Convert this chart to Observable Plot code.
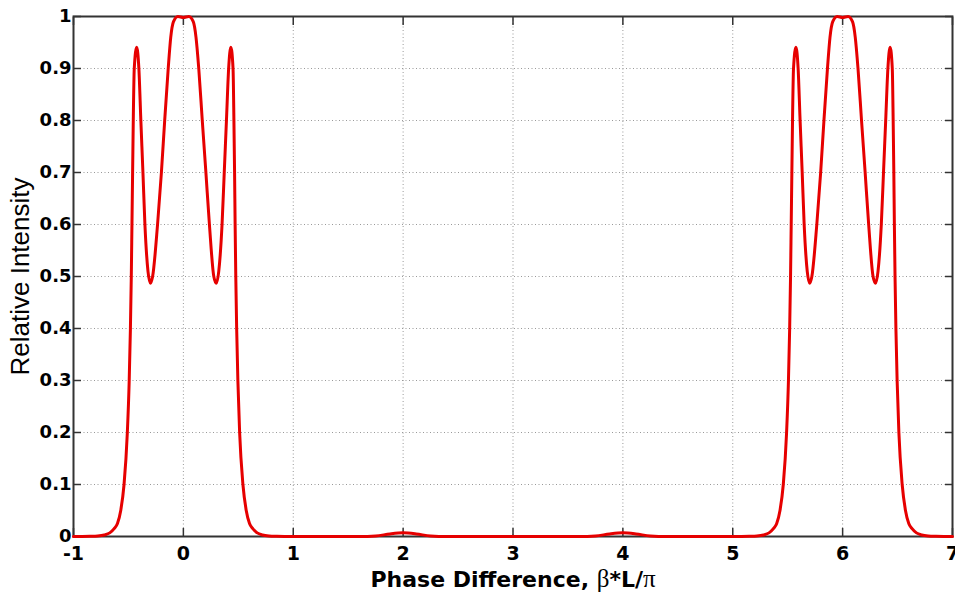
<!DOCTYPE html>
<html><head><meta charset="utf-8">
<script src="https://cdn.jsdelivr.net/npm/d3@7"></script>
<script src="https://cdn.jsdelivr.net/npm/@observablehq/plot@0.6"></script>
<style>body{margin:0;background:#fff}</style>
</head><body><div id="chart"></div>
<script>
const phaseX = [
  -1.00, -0.92, -0.85, -0.78, -0.72, -0.67, -0.63, -0.60, -0.57, -0.54, -0.51, -0.493, -0.482, -0.474, -0.468, -0.462, -0.456, -0.447,
  -0.425, -0.405, -0.387, -0.368, -0.350, -0.322, -0.300, -0.280, -0.235, -0.200, -0.170, -0.138, -0.115, -0.090, -0.050,
  0.000, 0.050, 0.090, 0.115, 0.140, 0.172, 0.205, 0.237, 0.277, 0.300, 0.322, 0.352, 0.372, 0.392, 0.412,
  0.432, 0.452, 0.460, 0.466, 0.471, 0.477, 0.485, 0.496, 0.512, 0.542, 0.572, 0.602, 0.632, 0.672, 0.72, 0.78, 0.85, 0.92,
  1.20, 1.60, 1.75, 1.88, 2.00, 2.12, 2.25, 2.40, 3.00, 3.60, 3.75, 3.88, 4.00, 4.12, 4.25, 4.40, 5.08,
  5.15, 5.22, 5.28, 5.33, 5.37, 5.40, 5.43, 5.46, 5.49, 5.507, 5.518, 5.526, 5.532, 5.538, 5.544, 5.553,
  5.575, 5.595, 5.613, 5.632, 5.650, 5.678, 5.700, 5.720, 5.765, 5.800, 5.830, 5.862, 5.885, 5.910, 5.950,
  6.000, 6.050, 6.090, 6.115, 6.140, 6.172, 6.205, 6.237, 6.277, 6.300, 6.322, 6.352, 6.372, 6.392, 6.412,
  6.432, 6.452, 6.460, 6.466, 6.471, 6.477, 6.485, 6.496, 6.512, 6.542, 6.572, 6.602, 6.632, 6.672, 6.72, 6.78, 6.85, 6.92, 7.00
];
const intensity = [
  0, 0, 0.0003, 0.001, 0.003, 0.007, 0.015, 0.025, 0.05, 0.10, 0.20, 0.30, 0.40, 0.50, 0.60, 0.70, 0.80, 0.90,
  0.941, 0.90, 0.80, 0.70, 0.60, 0.51, 0.487, 0.50, 0.60, 0.70, 0.80, 0.90, 0.96, 0.99, 1.0,
  0.998, 1.0, 0.99, 0.96, 0.90, 0.80, 0.70, 0.60, 0.50, 0.487, 0.51, 0.60, 0.70, 0.80, 0.90,
  0.941, 0.90, 0.80, 0.70, 0.60, 0.50, 0.40, 0.30, 0.20, 0.10, 0.05, 0.025, 0.015, 0.007, 0.003, 0.001, 0.0003, 0,
  0, 0, 0.001, 0.005, 0.007, 0.005, 0.001, 0, 0, 0, 0.001, 0.005, 0.007, 0.005, 0.001, 0, 0,
  0.0003, 0.001, 0.003, 0.007, 0.015, 0.025, 0.05, 0.10, 0.20, 0.30, 0.40, 0.50, 0.60, 0.70, 0.80, 0.90,
  0.941, 0.90, 0.80, 0.70, 0.60, 0.51, 0.487, 0.50, 0.60, 0.70, 0.80, 0.90, 0.96, 0.99, 1.0,
  0.998, 1.0, 0.99, 0.96, 0.90, 0.80, 0.70, 0.60, 0.50, 0.487, 0.51, 0.60, 0.70, 0.80, 0.90,
  0.941, 0.90, 0.80, 0.70, 0.60, 0.50, 0.40, 0.30, 0.20, 0.10, 0.05, 0.025, 0.015, 0.007, 0.003, 0.001, 0.0003, 0, 0
];
const xTicks = [-1, 0, 1, 2, 3, 4, 5, 6, 7];
const yTicks = [0, 0.1, 0.2, 0.3, 0.4, 0.5, 0.6, 0.7, 0.8, 0.9, 1];
const xLabel = "Phase Difference, β*L/π";
const yLabel = "Relative Intensity";

const data = phaseX.map((x, i) => ({x, y: intensity[i]}));
const axisColor = "#333333";
const gridStyle = {stroke: "#999", strokeOpacity: 1, strokeWidth: 1, strokeDasharray: "1,2.5"};

const chart = Plot.plot({
  width: 955, height: 595,
  marginLeft: 73, marginRight: 3, marginTop: 16, marginBottom: 59,
  x: {domain: [-1, 7], label: null},
  y: {domain: [0, 1], label: null},
  style: {background: "#fff", fontFamily: "DejaVu Sans", color: "#000"},
  marks: [
    Plot.gridX(xTicks, gridStyle),
    Plot.gridY(yTicks, gridStyle),
    Plot.frame({stroke: axisColor, strokeWidth: 2}),
    Plot.axisX(xTicks, {anchor: "bottom", tickSize: 8, dy: -8, fill: "none", stroke: axisColor, strokeWidth: 1.5}),
    Plot.axisX(xTicks, {anchor: "top", tickSize: 8, dy: 8, fill: "none", stroke: axisColor, strokeWidth: 1.5}),
    Plot.axisY(yTicks, {anchor: "left", tickSize: 8, dx: 8, fill: "none", stroke: axisColor, strokeWidth: 1.5}),
    Plot.axisY(yTicks, {anchor: "right", tickSize: 8, dx: -8, fill: "none", stroke: axisColor, strokeWidth: 1.5}),
    Plot.line(data, {x: "x", y: "y", stroke: "#e60000", strokeWidth: 3, curve: "monotone-x"}),
    Plot.axisX(xTicks, {anchor: "bottom", tickSize: 0, tickPadding: 10, tickFormat: d => String(d), fontSize: 19, fontWeight: "bold", fill: "#000"}),
    Plot.axisY(yTicks, {anchor: "left", tickSize: 0, tickPadding: 2, tickFormat: d => String(d), fontSize: 18, fontWeight: "bold", fill: "#000"}),
    Plot.text([xLabel], {text: d => d, frameAnchor: "bottom", dy: 50, lineAnchor: "bottom", fontSize: 22, fontWeight: "bold", fill: "#000"}),
    Plot.text([yLabel], {text: d => d, frameAnchor: "left", dx: -45, rotate: -90, textAnchor: "middle", lineAnchor: "bottom", fontSize: 26, fontFamily: "Liberation Sans", fill: "#000"})
  ]
});
document.getElementById("chart").appendChild(chart);

// style Greek letters of the x label like the original (regular serif symbols)
for (const t of chart.querySelectorAll("text")) {
  if (t.textContent === xLabel) {
    t.textContent = "";
    const parts = [["Phase Difference, ", false], ["β", true], ["*L/", false], ["π", true]];
    for (const [s, greek] of parts) {
      const sp = document.createElementNS("http://www.w3.org/2000/svg", "tspan");
      sp.textContent = s;
      if (greek) {
        sp.setAttribute("font-family", "Liberation Serif");
        sp.setAttribute("font-weight", "normal");
        sp.setAttribute("font-size", "25");
      }
      t.appendChild(sp);
    }
  }
}
</script>
</body></html>
